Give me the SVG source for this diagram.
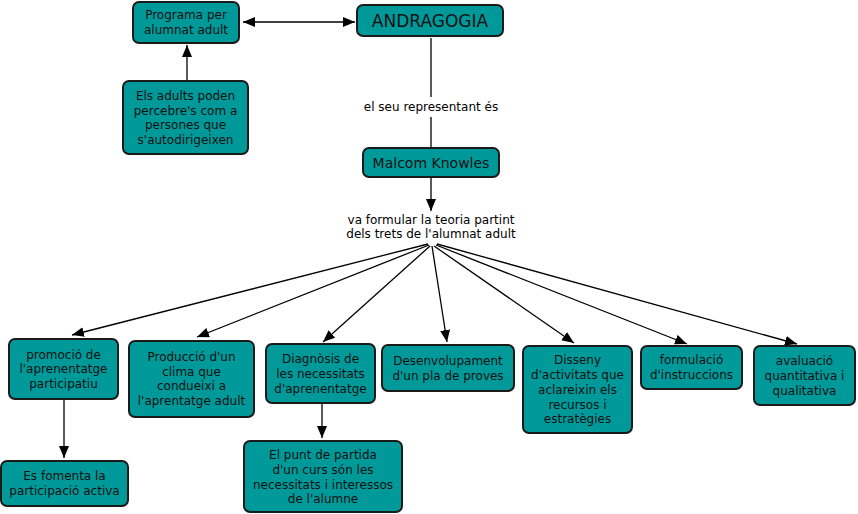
<svg xmlns="http://www.w3.org/2000/svg" width="858" height="514" viewBox="0 0 858 514">
<style>
.box{fill:#009999;stroke:#1a1a1a;stroke-width:2}
.t{font-family:"DejaVu Sans",Verdana,sans-serif;font-size:12px;fill:#111;text-anchor:middle}
.lbl{font-family:"DejaVu Sans",Verdana,sans-serif;font-size:12px;fill:#000;text-anchor:middle}
.c{stroke:#000;stroke-width:1.3;fill:none}
</style>
<defs>
<marker id="ah" markerUnits="userSpaceOnUse" markerWidth="13" markerHeight="11" refX="12" refY="5" orient="auto-start-reverse">
<path d="M0,0 L12,5 L0,10 Z" fill="#000"/>
</marker>
</defs>
<rect width="858" height="514" fill="#fff"/>
<g id="connectors">
<line class="c" x1="243" y1="22" x2="355" y2="22" marker-start="url(#ah)" marker-end="url(#ah)"/>
<line class="c" x1="187" y1="81" x2="187" y2="45" marker-end="url(#ah)"/>
<line class="c" x1="431" y1="38" x2="431" y2="97"/>
<line class="c" x1="431" y1="117" x2="431" y2="147"/>
<line class="c" x1="431" y1="178" x2="431" y2="211" marker-end="url(#ah)"/>
<line class="c" x1="428" y1="244" x2="72" y2="335" marker-end="url(#ah)"/>
<line class="c" x1="429" y1="245" x2="197" y2="337" marker-end="url(#ah)"/>
<line class="c" x1="430" y1="246" x2="323" y2="342" marker-end="url(#ah)"/>
<line class="c" x1="432" y1="246" x2="447" y2="342" marker-end="url(#ah)"/>
<line class="c" x1="434" y1="246" x2="574" y2="343" marker-end="url(#ah)"/>
<line class="c" x1="436" y1="245" x2="687" y2="344" marker-end="url(#ah)"/>
<line class="c" x1="437" y1="244" x2="797" y2="344" marker-end="url(#ah)"/>
<line class="c" x1="64" y1="399" x2="64" y2="458" marker-end="url(#ah)"/>
<line class="c" x1="322" y1="403" x2="322" y2="438" marker-end="url(#ah)"/>
</g>
<g id="label1"><text class="lbl" x="431" y="111">el seu representant és</text></g>
<g id="label2"><text class="lbl" x="431" y="224">va formular la teoria partint</text><text class="lbl" x="431" y="238">dels trets de l'alumnat adult</text></g>
<g id="programa"><rect class="box" x="133" y="2" width="106" height="41" rx="6"/><text class="t" x="186" y="19">Programa per</text><text class="t" x="186" y="33.5">alumnat adult</text></g>
<g id="andragogia"><rect class="box" x="357" y="5" width="146" height="31" rx="6"/><text class="t" x="430" y="26.5" style="font-size:17px">ANDRAGOGIA</text></g>
<g id="adults"><rect class="box" x="123" y="81" width="125" height="73" rx="6"/><text class="t" x="185.5" y="100">Els adults poden</text><text class="t" x="185.5" y="114.7">percebre's com a</text><text class="t" x="185.5" y="129.4">persones que</text><text class="t" x="185.5" y="144.1">s'autodirigeixen</text></g>
<g id="malcom"><rect class="box" x="363" y="148" width="136" height="29" rx="6"/><text class="t" x="431" y="167.5" style="font-size:14px">Malcom Knowles</text></g>
<g id="promocio"><rect class="box" x="9" y="339" width="109" height="60" rx="6"/><text class="t" x="63.5" y="358.6">promoció de</text><text class="t" x="63.5" y="373.3">l'aprenentatge</text><text class="t" x="63.5" y="388">participatiu</text></g>
<g id="produccio"><rect class="box" x="129" y="341" width="125" height="76" rx="6"/><text class="t" x="191.5" y="361">Producció d'un</text><text class="t" x="191.5" y="375.7">clima que</text><text class="t" x="191.5" y="390.4">condueixi a</text><text class="t" x="191.5" y="405.1">l'aprentatge adult</text></g>
<g id="diagnosis"><rect class="box" x="266" y="344" width="109" height="59" rx="6"/><text class="t" x="320.5" y="363.1">Diagnòsis de</text><text class="t" x="320.5" y="377.8">les necessitats</text><text class="t" x="320.5" y="392.5">d'aprenentatge</text></g>
<g id="desenvolupament"><rect class="box" x="382" y="345" width="132" height="46" rx="6"/><text class="t" x="448" y="364.9">Desenvolupament</text><text class="t" x="448" y="379.6">d'un pla de proves</text></g>
<g id="disseny"><rect class="box" x="523" y="346" width="109" height="87" rx="6"/><text class="t" x="577.5" y="364.4">Disseny</text><text class="t" x="577.5" y="379.1">d'activitats que</text><text class="t" x="577.5" y="393.8">aclareixin els</text><text class="t" x="577.5" y="408.5">recursos i</text><text class="t" x="577.5" y="423.2">estratègies</text></g>
<g id="formulacio"><rect class="box" x="641" y="346" width="101" height="43" rx="6"/><text class="t" x="691.5" y="364.4">formulació</text><text class="t" x="691.5" y="379.1">d'instruccions</text></g>
<g id="avaluacio"><rect class="box" x="754" y="346" width="101" height="59" rx="6"/><text class="t" x="804.5" y="365.1">avaluació</text><text class="t" x="804.5" y="379.8">quantitativa i</text><text class="t" x="804.5" y="394.5">qualitativa</text></g>
<g id="fomenta"><rect class="box" x="1" y="461" width="127" height="45" rx="6"/><text class="t" x="64.5" y="480.4">Es fomenta la</text><text class="t" x="64.5" y="495.1">participació activa</text></g>
<g id="punt"><rect class="box" x="244" y="441" width="158" height="71" rx="6"/><text class="t" x="323" y="459.3">El punt de partida</text><text class="t" x="323" y="474">d'un curs són les</text><text class="t" x="323" y="488.7">necessitats i interessos</text><text class="t" x="323" y="503.4">de l'alumne</text></g>
</svg>
